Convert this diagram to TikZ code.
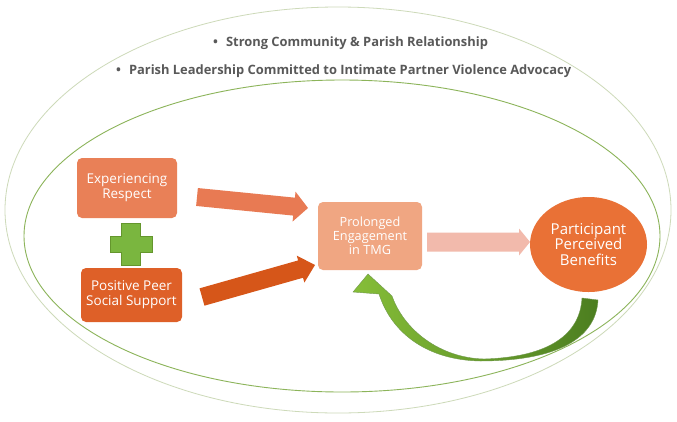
\documentclass[tikz,border=0pt]{standalone}
\usepackage{fontspec}
\setmainfont{Open Sans}
\usetikzlibrary{calc,shapes.geometric}
\definecolor{expC}{RGB}{233,128,87}
\definecolor{posC}{RGB}{222,96,40}
\definecolor{engC}{RGB}{240,166,130}
\definecolor{benC}{RGB}{233,113,54}
\definecolor{arrA}{RGB}{232,122,83}
\definecolor{arrB}{RGB}{214,86,25}
\definecolor{arrC}{RGB}{242,186,172}
\definecolor{outerC}{RGB}{205,218,185}
\definecolor{innerC}{RGB}{140,180,90}
\definecolor{plusC}{RGB}{122,182,63}
\definecolor{plusD}{RGB}{100,150,45}
\definecolor{grnL}{RGB}{134,190,56}
\definecolor{grnD}{RGB}{76,126,32}
\definecolor{txtG}{RGB}{89,89,89}
\newcommand\blockarrow[6]{%
  \coordinate (ba-h) at ($(#2)!#5!(#1)$);
  \fill[#6] ($(#1)!#3!90:(#2)$) -- ($(ba-h)!#3!-90:(#1)$) -- ($(ba-h)!#4!-90:(#1)$)
    -- (#2) -- ($(ba-h)!#4!90:(#1)$) -- ($(ba-h)!#3!90:(#1)$) -- ($(#1)!#3!-90:(#2)$) -- cycle;
}
\tikzset{
  boxnode/.style={rectangle, rounded corners=5pt, align=center, text=white, inner sep=2pt},
  toptext/.style={anchor=west, text=txtG, font=\fontsize{12.9}{15}\selectfont\bfseries, inner sep=0pt}
}
\begin{document}
\begin{tikzpicture}[x=1pt,y=-1pt]
\useasboundingbox[fill=white] (0,0) rectangle (677,421);
% ellipses
\draw[outerC, line width=0.8pt] (338,210) ellipse [x radius=333pt, y radius=203pt];
\draw[innerC, line width=0.9pt] (342,236) ellipse [x radius=318pt, y radius=156pt];
% top texts
\node[toptext] (t1) at (213,43) {•\hspace{8pt}Strong Community \& Parish Relationship};
\node[toptext] (t2) at (116,71) {•\hspace{8pt}Parish Leadership Committed to Intimate Partner Violence Advocacy};
% nodes
\node[boxnode, fill=expC, minimum width=100pt, minimum height=60pt, font=\fontsize{13.5}{15}\selectfont] (exp) at (127,188) {Experiencing\\Respect};
\node[boxnode, fill=posC, minimum width=101pt, minimum height=54pt, font=\fontsize{13.5}{15}\selectfont] (pos) at (131.5,295) {Positive Peer\\Social Support};
\node[boxnode, fill=engC, minimum width=104pt, minimum height=68pt, font=\fontsize{12.7}{14}\selectfont] (eng) at (370,236) {Prolonged\\Engagement\\in TMG};
\node[ellipse, fill=benC, minimum width=117pt, minimum height=95pt, inner sep=0pt, align=center, text=white, font=\fontsize{15}{15.5}\selectfont] (ben) at (588.5,244.5) {Participant\\Perceived\\Benefits};
% plus
\coordinate (plus) at (131,244);
\fill[plusC, draw=plusD, line width=0.5pt] ($(plus)+(-9.5,-21)$) -- ($(plus)+(9.5,-21)$) -- ($(plus)+(9.5,-8)$) -- ($(plus)+(21,-8)$) -- ($(plus)+(21,8)$) -- ($(plus)+(9.5,8)$) -- ($(plus)+(9.5,21)$) -- ($(plus)+(-9.5,21)$) -- ($(plus)+(-9.5,8)$) -- ($(plus)+(-21,8)$) -- ($(plus)+(-21,-8)$) -- ($(plus)+(-9.5,-8)$) -- cycle;
% block arrows
\coordinate (a1s) at (197,197); \coordinate (a1e) at (308,208);
\coordinate (a2s) at (202,297); \coordinate (a2e) at (315,265);
\coordinate (a3s) at (427,242); \coordinate (a3e) at (530,242);
\blockarrow{a1s}{a1e}{9pt}{15pt}{14pt}{arrA}
\blockarrow{a2s}{a2e}{9pt}{14pt}{15pt}{arrB}
\blockarrow{a3s}{a3e}{9.5pt}{13.5pt}{11pt}{arrC}
% curved green arrow
\shade[left color=grnL, right color=grnD, draw=grnD!80, line width=0.4pt]
  (598,300) .. controls (596,338) and (558,361) .. (480,361)
  .. controls (428,360) and (392,334) .. (379,294)
  -- (353,292) -- (368,274) -- (392,296)
  .. controls (404,330) and (440,358) .. (484,359)
  .. controls (550,357) and (580,334) .. (582,298) -- cycle;
\end{tikzpicture}
\end{document}
